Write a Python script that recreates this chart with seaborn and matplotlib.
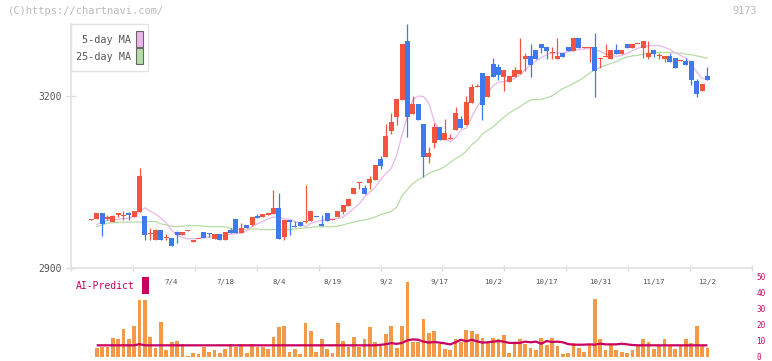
import numpy as np
import pandas as pd
import matplotlib
matplotlib.use("Agg")
import matplotlib.pyplot as plt
from matplotlib.patches import Rectangle
import seaborn as sns

# daily candles (yen)
opens = [2984.5, 2985, 2996.5, 2986, 2980, 2993, 2990, 2995.5, 2989.5, 2998,
         2991, 2959, 2949, 2966.5, 2952, 2952, 2963, 2958, 2964, 2945.5,
         2950.5, 2963, 2961, 2951, 2959, 2949, 2966.5, 2985.5, 2961, 2975,
         2975, 2991, 2989, 2992.5, 2994, 3004.5, 2954, 2984, 2972, 2980,
         2981, 2982, 2989.5, 2977, 2996, 2983.5, 2989.5, 2998, 3009, 3029.5,
         3049, 3039.5, 3048, 3054, 3089.5, 3094, 3139, 3164, 3193, 3296,
         3168.5, 3186, 3151, 3094, 3118.5, 3146, 3124, 3125, 3140.5, 3160,
         3149.5, 3188, 3215, 3240, 3198, 3256, 3250.5, 3233, 3224.5, 3233,
         3238.5, 3264.5, 3270, 3280, 3290.5, 3285.5, 3275, 3264.5, 3275, 3285.5,
         3278.5, 3301, 3284.5, 3284.5, 3285.5, 3264.5, 3268, 3264.5, 3280, 3273,
         3290.5, 3283.5, 3290, 3283.5, 3268, 3280, 3269.5, 3264.5, 3270, 3266,
         3260.5, 3261, 3261, 3226, 3209, 3235]
highs = [2985.5, 2996.5, 2996.5, 2992, 2992.5, 2996.5, 2999.5, 2998, 2999.5, 3074.5,
         2991, 2970, 2968.5, 2966.5, 2959, 2952, 2965, 2963, 2965.5, 2949,
         2951, 2963, 2961, 2959, 2959, 2963, 2970, 2985.5, 2978.5, 2975,
         2989, 2994, 2994, 2996, 3036, 3031, 2984, 2984, 2982, 2980,
         3044.5, 2999.5, 2989.5, 2992.5, 2996, 2985.5, 2999.5, 3010, 3020.5, 3039.5,
         3049.5, 3045, 3060.5, 3079.5, 3095.5, 3151, 3170, 3195, 3290.5, 3325.5,
         3200, 3186, 3151, 3111.5, 3153.5, 3146, 3160, 3134.5, 3181, 3165,
         3200, 3221, 3221, 3240, 3235, 3266, 3256, 3245, 3235, 3250.5,
         3301, 3275, 3290.5, 3280, 3290.5, 3285.5, 3285.5, 3301, 3275, 3285.5,
         3301, 3301, 3285, 3285.5, 3310, 3266, 3290.5, 3280, 3290.5, 3280,
         3290.5, 3290.5, 3290.5, 3296, 3296, 3280, 3275, 3270, 3275, 3266,
         3263, 3266, 3261, 3229.5, 3221, 3250.5]
lows = [2984.5, 2985, 2956, 2983, 2980, 2988.5, 2983.5, 2983.5, 2989.5, 2998,
        2949, 2949, 2949, 2949, 2949, 2938.5, 2944, 2958, 2964, 2945.5,
        2950.5, 2952.5, 2954, 2951, 2949, 2949, 2961, 2961, 2961, 2970,
        2973.5, 2987.5, 2989, 2992.5, 2994, 2950.5, 2949, 2957.5, 2971, 2973,
        2978.5, 2982, 2989, 2974, 2982, 2983.5, 2989.5, 2994, 3009, 3029.5,
        3038, 3029.5, 3038, 3054, 3072.5, 3094, 3133.5, 3149.5, 3193, 3129,
        3168.5, 3158, 3059, 3083.5, 3110, 3124, 3124, 3125, 3140.5, 3144,
        3149.5, 3188, 3215, 3158, 3198, 3233, 3228, 3208.5, 3224.5, 3233,
        3238.5, 3243.5, 3233, 3264.5, 3275, 3264.5, 3264.5, 3264.5, 3268, 3278.5,
        3278.5, 3283.5, 3284.5, 3259, 3199, 3249, 3268, 3264.5, 3273, 3273,
        3283.5, 3283.5, 3290, 3266, 3264.5, 3268, 3264.5, 3259, 3259, 3249,
        3260.5, 3254, 3219, 3198, 3209, 3228]
closes = [2985.5, 2996.5, 2977, 2989, 2991, 2996.5, 2991, 2992, 2999.5, 3060.5,
          2957.5, 2960, 2966.5, 2949, 2952.5, 2938.5, 2958, 2963, 2965.5, 2949,
          2951, 2952.5, 2959, 2959, 2949, 2963, 2961, 2961, 2970, 2970,
          2989, 2987.5, 2994, 2996, 3004.5, 2950.5, 2984, 2980, 2971, 2973,
          2982, 2999.5, 2989, 2974, 2982, 2985.5, 2999.5, 3010, 3020.5, 3039.5,
          3049.5, 3029.5, 3054.5, 3079.5, 3078.5, 3130, 3154.5, 3195, 3290.5, 3164,
          3186, 3158, 3094, 3101, 3146, 3124, 3135.5, 3125.5, 3170.5, 3144,
          3189.5, 3215.5, 3215.5, 3184, 3235, 3233, 3236.5, 3245, 3235, 3245,
          3245, 3270, 3254, 3264.5, 3283.5, 3278.5, 3275.5, 3270, 3268, 3278.5,
          3301, 3283.5, 3285, 3285.5, 3243.5, 3266, 3270, 3280, 3273, 3280,
          3283.5, 3290.5, 3290.5, 3296, 3275, 3273, 3270, 3270, 3259, 3249,
          3261.5, 3254, 3228, 3203.5, 3221, 3228]

ma5 = [np.nan,
       2976, 2979, 2983, 2984, 2985, 2986, 2987, 2990, 2998, 3005,
       2999, 2994, 2987, 2978, 2966, 2957, 2953, 2951, 2951, 2951,
       2954, 2954, 2955, 2956, 2958, 2959, 2960, 2961, 2965, 2972,
       2977, 2981, 2986, 2989, 2988, 2986, 2985, 2981, 2978, 2972,
       2978, 2981, 2983, 2985, 2985, 2986, 2989, 2996, 3004, 3012,
       3024, 3032, 3041, 3054, 3065, 3074, 3097, 3132, 3165, 3193,
       3200, 3199, 3188, 3156, 3139, 3127, 3120, 3127, 3141, 3144,
       3163, 3181, 3195, 3205, 3218, 3224, 3225, 3228, 3230, 3237,
       3246, 3254, 3261, 3267, 3272, 3275, 3275, 3275, 3277, 3279,
       3281, 3282, 3283, 3281, 3278, 3273, 3271, 3269, 3271, 3274,
       3279, 3283, 3286, 3288, 3288, 3288, 3285, 3281, 3275, 3271,
       3266, 3256, 3242, 3231, 3228]
ma25 = [np.nan,
        2972, 2975, 2978, 2979, 2980, 2980, 2980, 2980, 2980, 2981,
        2981, 2981, 2977, 2975, 2973, 2972, 2973, 2974, 2974, 2974,
        2973, 2972, 2972, 2972, 2972, 2969, 2968, 2968, 2968, 2968,
        2968, 2967, 2967, 2967, 2967, 2967, 2967, 2968, 2969, 2970,
        2971, 2972, 2972, 2972, 2972, 2973, 2975, 2978, 2980, 2982,
        2984, 2986, 2989, 2993, 2996, 2999, 3006, 3026, 3037, 3047,
        3054, 3059, 3065, 3069, 3072, 3077, 3084, 3091, 3096, 3104,
        3115, 3122, 3134, 3140, 3146, 3155, 3163, 3170, 3176, 3181,
        3188, 3193, 3194, 3194, 3197, 3200, 3207, 3213, 3217, 3222,
        3227, 3233, 3240, 3246, 3250, 3253, 3257, 3260, 3265, 3268,
        3270, 3271, 3273, 3275, 3276, 3276, 3276, 3276, 3275, 3275,
        3273, 3272, 3270, 3268, 3266]

# lower panel (from 2nd candle on)
volume = [5.4, 6.3, 6.3, 11.7, 11.0, 17.3, 11.0, 19.2, 35.4, 35.4,
          12.3, 5.4, 21.7, 4.2, 9.2, 9.8, 8.3, 0.4, 2.3, 1.7,
          6.0, 2.9, 4.2, 2.7, 4.8, 8.3, 6.0, 8.3, 2.3, 8.3,
          6.0, 6.0, 4.8, 12.3, 18.8, 19.2, 2.9, 4.8, 1.7, 21.0,
          16.0, 2.9, 11.0, 4.8, 2.3, 21.0, 9.8, 6.0, 12.3, 6.0,
          11.0, 18.8, 9.2, 7.3, 14.2, 19.2, 5.4, 19.2, 46.7,
          9.6, 9.6, 23.5, 14.8, 16.0, 8.3, 4.8, 4.2, 11.0, 9.6,
          16.7, 16.0, 14.2, 11.7, 9.6, 11.7, 11.0, 13.5, 2.3, 9.6,
          11.0, 7.9, 5.4, 4.2, 11.7, 7.3, 11.7, 6.7, 1.7, 2.3,
          9.0, 5.4, 2.9, 7.3, 36.0, 11.0, 4.2, 7.3, 4.2, 2.9,
          2.3, 4.2, 6.7, 11.0, 9.2, 4.8, 7.3, 11.0, 7.3, 4.8,
          6.7, 11.0, 8.5, 19.2, 6.7, 5.4]
predict = [7.3, 7.3, 7.3, 7.3, 7.3, 7.3, 7.3, 7.3, 8.0, 7.3,
           7.3, 7.3, 7.3, 7.3, 7.3, 7.3, 7.3, 7.3, 7.3, 7.3,
           7.3, 7.3, 7.3, 7.3, 7.3, 7.3, 7.3, 7.3, 7.3, 7.3,
           7.3, 7.3, 7.3, 7.3, 7.3, 7.3, 7.3, 7.3, 7.3, 7.3,
           7.3, 7.3, 7.3, 7.3, 7.3, 7.3, 7.3, 7.3, 7.3, 7.3,
           7.3, 7.3, 7.3, 7.6, 8.0, 8.7, 8.2, 8.8, 10.4, 11.0,
           10.8, 9.6, 9.0, 9.4, 9.0, 8.5, 7.9, 9.2, 10.8, 9.8,
           10.8, 9.8, 9.0, 9.2, 9.6, 10.0, 9.6, 8.8, 8.8, 8.8,
           9.6, 9.2, 9.6, 8.3, 10.0, 9.4, 9.6, 9.2, 8.1, 7.7,
           7.7, 7.7, 7.9, 7.7, 8.3, 7.9, 7.9, 7.9, 8.3, 7.9,
           7.5, 7.3, 7.3, 7.3, 7.3, 7.3, 7.3, 7.3, 7.3, 7.3,
           7.3, 7.3, 7.3, 7.3, 7.3]

date_labels = ['7/4', '7/18', '8/4', '8/19', '9/2', '9/17', '10/2',
               '10/17', '10/31', '11/17', '12/2']
date_pos = [15, 25, 35, 45, 55, 65, 75, 85, 95, 105, 115]

df = pd.DataFrame({'open': opens, 'high': highs, 'low': lows, 'close': closes,
                   'ma5': ma5, 'ma25': ma25})
df['idx'] = np.arange(len(df))
vol = pd.DataFrame({'volume': volume, 'predict': predict})
vol['idx'] = np.arange(1, len(vol) + 1)

RED, BLUE = '#f2543d', '#3e79ee'
PINK, GREEN = '#ebb6ec', '#b6dca6'
ORANGE, CRIMSON = '#f2994a', '#c8005f'

sns.set_style('white')
plt.rcParams['font.family'] = ['DejaVu Sans Mono']

W, H = 772, 361
fig = plt.figure(figsize=(W / 100, H / 100), dpi=100)


def px_axes(l, t, r, b):
    return fig.add_axes([l / W, 1 - b / H, (r - l) / W, (b - t) / H])


ax = px_axes(71, 24, 752, 268)
ax2 = px_axes(71, 277, 752, 357)
xmin, xmax = -3.79, 123.33

# moving averages underneath the candles
sns.lineplot(data=df, x='idx', y='ma25', ax=ax, color=GREEN, lw=0.9, zorder=1)
sns.lineplot(data=df, x='idx', y='ma5', ax=ax, color=PINK, lw=0.9, zorder=1)

colors = np.where(df['close'] >= df['open'], RED, BLUE)
body = (df['close'] - df['open']).to_numpy()
body = np.where(np.abs(body) < 1.6, 1.6, np.abs(body))
bottom = np.minimum(df['open'], df['close'])
ax.vlines(df['idx'], df['low'], df['high'], colors=colors, lw=0.9, zorder=2)
ax.bar(df['idx'], body, bottom=bottom, width=0.93, color=colors, lw=0, zorder=3)

ax.set_xlim(xmin, xmax)
ax.set_ylim(2900, 3325.6)
ax.set_xlabel('')
ax.set_ylabel('')
ax.set_yticks([2900, 3200])
ax.set_yticklabels(['2900', '3200'])
ax.set_xticks(np.linspace(xmin, xmax, 12))
ax.set_xticklabels([])
ax.tick_params(axis='y', direction='inout', length=7, width=1, color='#dcdcdc',
               labelcolor='#555555', labelsize=7, pad=3, left=True)
ax.tick_params(axis='x', direction='inout', length=4, width=1, color='#dcdcdc',
               bottom=True)
for s in ['top', 'right']:
    ax.spines[s].set_visible(False)
for s in ['left', 'bottom']:
    ax.spines[s].set_color('#e2e2e2')
    ax.spines[s].set_linewidth(1.2)

# lower panel
ax2.bar(vol['idx'], vol['volume'], width=0.69, color=ORANGE, lw=0, zorder=1)
sns.lineplot(data=vol, x='idx', y='predict', ax=ax2, color=CRIMSON, lw=1.6,
             zorder=2, solid_capstyle='butt')
ax2.set_xlim(xmin, xmax)
ax2.set_ylim(0, 50)
ax2.set_xlabel('')
ax2.set_ylabel('')
ax2.set_xticks([])
ax2.yaxis.tick_right()
ax2.set_yticks([0, 10, 20, 30, 40, 50])
ax2.set_yticklabels(['0', '10', '20', '30', '40', '50'])
ax2.tick_params(axis='y', length=0, labelcolor=CRIMSON, labelsize=5.5, pad=3)
for s in ax2.spines.values():
    s.set_visible(False)
ax2.patch.set_alpha(0)

for lab, pos in zip(date_labels, date_pos):
    ax2.text(pos, 46.9, lab, ha='center', va='center', fontsize=5.4,
             color='#555555')

fig.text(75.5 / W, 1 - 286 / H, 'AI-Predict', ha='left', va='center',
         fontsize=7, color=CRIMSON)
fig.patches.append(Rectangle((142 / W, 1 - 294 / H), 7 / W, 17 / H,
                             transform=fig.transFigure, facecolor=CRIMSON,
                             edgecolor='none'))

# legend box
fig.patches.append(Rectangle((71 / W, 1 - 71 / H), 77 / W, 47 / H,
                             transform=fig.transFigure, facecolor='white',
                             edgecolor='#e2e2e2', lw=1.0, zorder=5))
fig.text(131 / W, 1 - 40 / H, '5-day MA', ha='right', va='center',
         fontsize=7.3, color='#555555', zorder=6)
fig.text(131 / W, 1 - 57 / H, '25-day MA', ha='right', va='center',
         fontsize=7.3, color='#555555', zorder=6)
fig.patches.append(Rectangle((136 / W, 1 - 46.5 / H), 6.5 / W, 15 / H,
                             transform=fig.transFigure, facecolor=PINK,
                             edgecolor='#666666', lw=0.8, zorder=6))
fig.patches.append(Rectangle((136 / W, 1 - 63.5 / H), 6.5 / W, 15 / H,
                             transform=fig.transFigure, facecolor=GREEN,
                             edgecolor='#666666', lw=0.8, zorder=6))

fig.text(8 / W, 1 - 11 / H, '(C)https://chartnavi.com/', ha='left', va='center',
         fontsize=7.5, color='#bbbbbb')
fig.text(757 / W, 1 - 11 / H, '9173', ha='right', va='center',
         fontsize=7.3, color='#bbbbbb')

fig.savefig('out.png', dpi=100)
